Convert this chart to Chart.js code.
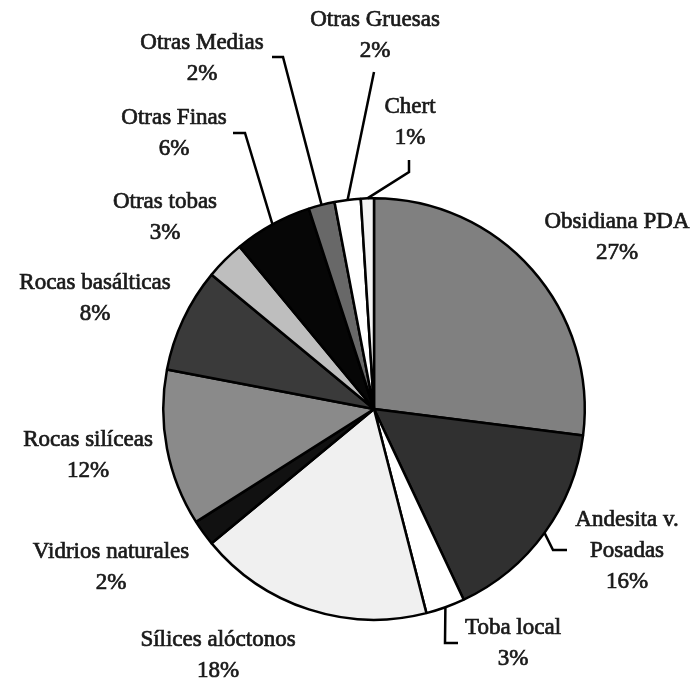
<!DOCTYPE html>
<html>
<head>
<meta charset="utf-8">
<script src="https://cdn.jsdelivr.net/npm/chart.js@4"></script>
<style>
  html, body { margin: 0; padding: 0; background: #fff; }
  #wrap { width: 698px; height: 682px; }
</style>
</head>
<body>
<div id="wrap"><canvas id="pieChart" width="698" height="682"></canvas></div>
<script>
const categories = ['Obsidiana PDA', 'Andesita v. Posadas', 'Toba local', 'Sílices alóctonos',
    'Vidrios naturales', 'Rocas silíceas', 'Rocas basálticas', 'Otras tobas',
    'Otras Finas', 'Otras Medias', 'Otras Gruesas', 'Chert'];
const percents = [27, 16, 3, 18, 2, 12, 8, 3, 6, 2, 2, 1];
const fills = ['#808080', '#303030', '#ffffff', '#f0f0f0', '#111111', '#8a8a8a',
    '#3a3a3a', '#bebebe', '#060606', '#686868', '#ffffff', '#f4f4f4'];

// label text lines and where they sit
const labelLines = [
    ['Obsidiana PDA'], ['Andesita v.', 'Posadas'], ['Toba local'], ['Sílices alóctonos'],
    ['Vidrios naturales'], ['Rocas silíceas'], ['Rocas basálticas'], ['Otras tobas'],
    ['Otras Finas'], ['Otras Medias'], ['Otras Gruesas'], ['Chert']
];
const labelPos = [
    [617, 222], [627, 520], [513, 628], [218, 640],
    [111, 552], [88, 440], [95, 283], [165, 202],
    [174, 118], [202, 43], [375, 20], [410, 107]
];
// leader lines: extra points after the slice edge (null = no leader)
const leaders = [
    null,
    [[553, 550], [567, 550]],
    [[445, 643], [458, 643]],
    null, null, null, null, null,
    [[245, 133], [233, 133]],
    [[283, 57], [272, 57]],
    [[374, 72]],
    [[409, 172], [409, 160]]
];

const labelPlugin = {
    id: 'pieLabels',
    afterDraw(chart) {
        const ctx = chart.ctx;
        const arcs = chart.getDatasetMeta(0).data;
        ctx.save();
        ctx.strokeStyle = '#000';
        ctx.lineWidth = 2.5;
        arcs.forEach((arc, i) => {
            if (!leaders[i]) return;
            const p = arc.getProps(['x', 'y', 'startAngle', 'endAngle', 'outerRadius'], true);
            const mid = (p.startAngle + p.endAngle) / 2;
            ctx.beginPath();
            ctx.moveTo(p.x + Math.cos(mid) * p.outerRadius, p.y + Math.sin(mid) * p.outerRadius);
            leaders[i].forEach(pt => ctx.lineTo(pt[0], pt[1]));
            ctx.stroke();
        });
        // slightly heavier text, like the scanned original
        ctx.fillStyle = '#1a1a1a';
        ctx.strokeStyle = '#1a1a1a';
        ctx.lineWidth = 0.7;
        ctx.font = '23px "Liberation Serif", "Times New Roman", serif';
        ctx.textAlign = 'center';
        ctx.textBaseline = 'middle';
        labelLines.forEach((lines, i) => {
            const [x, y] = labelPos[i];
            const all = lines.concat([percents[i] + '%']);
            all.forEach((t, k) => {
                ctx.fillText(t, x, y + k * 31);
                ctx.strokeText(t, x, y + k * 31);
            });
        });
        ctx.restore();
    }
};

const ctx = document.getElementById('pieChart').getContext('2d');
const pieChart = new Chart(ctx, {
    type: 'pie',
    data: {
        labels: categories,
        datasets: [{
            data: percents,
            backgroundColor: fills,
            borderColor: '#000',
            borderWidth: 2.5
        }]
    },
    options: {
        responsive: false,
        animation: false,
        layout: { padding: { left: 162, right: 112, top: 197, bottom: 61 } },
        plugins: {
            legend: { display: false },
            tooltip: { enabled: false }
        }
    },
    plugins: [labelPlugin]
});
</script>
</body>
</html>
